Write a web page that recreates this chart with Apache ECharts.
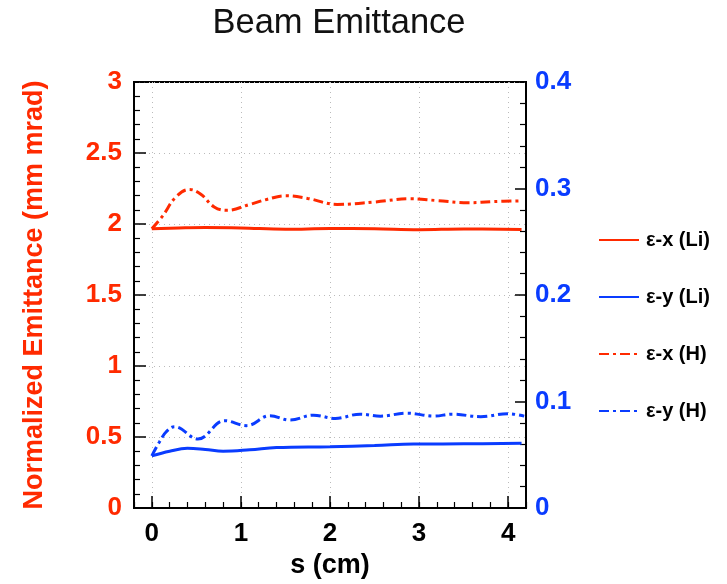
<!DOCTYPE html>
<html>
<head>
<meta charset="utf-8">
<script src="https://cdn.jsdelivr.net/npm/echarts@6/dist/echarts.min.js"></script>
<style>
  html, body { margin: 0; padding: 0; background: #fff; }
  #chart { width: 727px; height: 584px; }
</style>
</head>
<body>
<div id="chart"></div>
<script>
// Emittance along the beam path, s in cm, emittance in mm mrad
const exLi = [[0,1.967],[0.3,1.972],[0.6,1.975],[1.0,1.972],[1.5,1.963],[2.0,1.968],[2.5,1.966],[3.0,1.960],[3.5,1.965],[4.15,1.962]];
const eyLi = [[0,0.367],[0.2,0.40],[0.4,0.42],[0.6,0.412],[0.8,0.40],[1.1,0.41],[1.4,0.426],[2.0,0.432],[2.5,0.44],[2.94,0.45],[3.5,0.452],[4.15,0.456]];
const exH = [[0,1.967],[0.12,2.056],[0.27,2.19],[0.42,2.243],[0.55,2.21],[0.7,2.12],[0.84,2.096],[1.1,2.138],[1.29,2.173],[1.5,2.199],[1.75,2.18],[2.08,2.138],[2.5,2.155],[2.9,2.178],[3.2,2.165],[3.55,2.15],[3.85,2.158],[4.15,2.163]];
const eyH = [[0,0.367],[0.087,0.467],[0.162,0.537],[0.256,0.573],[0.518,0.486],[0.819,0.615],[1.063,0.58],[1.326,0.65],[1.552,0.619],[1.815,0.654],[2.059,0.631],[2.34,0.661],[2.566,0.647],[2.866,0.668],[3.166,0.647],[3.373,0.661],[3.692,0.643],[3.993,0.664],[4.18,0.647]];

const xMajor = [0, 1, 2, 3, 4];
const xMinor = [-0.2,0,0.2,0.4,0.6,0.8,1,1.2,1.4,1.6,1.8,2,2.2,2.4,2.6,2.8,3,3.2,3.4,3.6,3.8,4,4.2];

const RED = '#ff2a00';
const BLUE = '#0a3cff';
const FONT = '"Liberation Sans", Arial, sans-serif';
const dashDot = [10, 4, 3, 4];

const chart = echarts.init(document.getElementById('chart'), null, { renderer: 'canvas' });

const gridDots = { show: true, lineStyle: { color: '#bbb', type: [1, 4], width: 1 } };

chart.setOption({
  animation: false,
  title: {
    text: 'Beam Emittance',
    left: 334, textAlign: 'center', top: 1,
    textStyle: { fontFamily: FONT, fontWeight: 'normal', fontSize: 34.5, color: '#111' }
  },
  grid: {
    left: 134, right: 201, top: 82, bottom: 74,
    show: true, borderColor: '#000', borderWidth: 2, backgroundColor: 'transparent'
  },
  legend: {
    orient: 'vertical', left: 593, top: 225,
    itemWidth: 40, itemHeight: 14, itemGap: 37,
    itemStyle: { opacity: 0 },
    textStyle: { fontFamily: FONT, fontWeight: 'bold', fontSize: 20, color: '#000', padding: [0, 0, 0, 2] },
    data: ['ε-x (Li)', 'ε-y (Li)', 'ε-x (H)', 'ε-y (H)']
  },
  xAxis: [
    {
      type: 'value', min: -0.2, max: 4.2, position: 'bottom',
      name: 's (cm)', nameLocation: 'middle', nameGap: 44,
      nameTextStyle: { fontFamily: FONT, fontWeight: 'bold', fontSize: 27, color: '#000' },
      axisLine: { onZero: false, lineStyle: { color: '#000', width: 2 } },
      axisTick: { inside: true, length: 12, customValues: xMajor, lineStyle: { color: '#000', width: 1.5 } },
      axisLabel: { customValues: xMajor, margin: 13, fontFamily: FONT, fontWeight: 'bold', fontSize: 26, color: '#000' },
      splitLine: gridDots
    },
    {
      type: 'value', min: -0.2, max: 4.2, position: 'bottom',
      axisLine: { show: false, onZero: false },
      axisTick: { inside: true, length: 6, customValues: xMinor, lineStyle: { color: '#000', width: 1.2 } },
      axisLabel: { show: false },
      splitLine: { show: false }
    }
  ],
  yAxis: [
    {
      type: 'value', min: 0, max: 3, interval: 0.5, position: 'left',
      name: 'Normalized Emittance (mm mrad)', nameLocation: 'middle', nameGap: 86,
      nameTextStyle: { fontFamily: FONT, fontWeight: 'bold', fontSize: 27, color: RED },
      axisLine: { show: true, onZero: false, lineStyle: { color: '#000', width: 2 } },
      axisTick: { inside: true, length: 12, lineStyle: { color: '#000', width: 1.5 } },
      minorTick: { show: true, splitNumber: 5, length: 6, lineStyle: { color: '#000', width: 1.2 } },
      axisLabel: { margin: 12, fontFamily: FONT, fontWeight: 'bold', fontSize: 26, color: RED },
      splitLine: gridDots
    },
    {
      type: 'value', min: 0, max: 0.4, interval: 0.1, position: 'right',
      axisLine: { show: true, onZero: false, lineStyle: { color: '#000', width: 2 } },
      axisTick: { inside: true, length: 11, lineStyle: { color: '#000', width: 1.5 } },
      minorTick: { show: true, splitNumber: 5, length: 6, lineStyle: { color: '#000', width: 1.2 } },
      axisLabel: { margin: 9, fontFamily: FONT, fontWeight: 'bold', fontSize: 26, color: BLUE },
      splitLine: { show: false }
    }
  ],
  series: [
    { name: 'ε-x (Li)', type: 'line', data: exLi, smooth: 0.4, symbol: 'none', color: RED,
      lineStyle: { color: RED, width: 3 } },
    { name: 'ε-y (Li)', type: 'line', data: eyLi, smooth: 0.4, symbol: 'none', color: BLUE,
      lineStyle: { color: BLUE, width: 3 } },
    { name: 'ε-x (H)', type: 'line', data: exH, smooth: 0.4, symbol: 'none', color: RED,
      lineStyle: { color: RED, width: 3, type: dashDot } },
    { name: 'ε-y (H)', type: 'line', data: eyH, smooth: 0.4, symbol: 'none', color: BLUE,
      lineStyle: { color: BLUE, width: 3, type: dashDot } }
  ]
});
</script>
</body>
</html>
